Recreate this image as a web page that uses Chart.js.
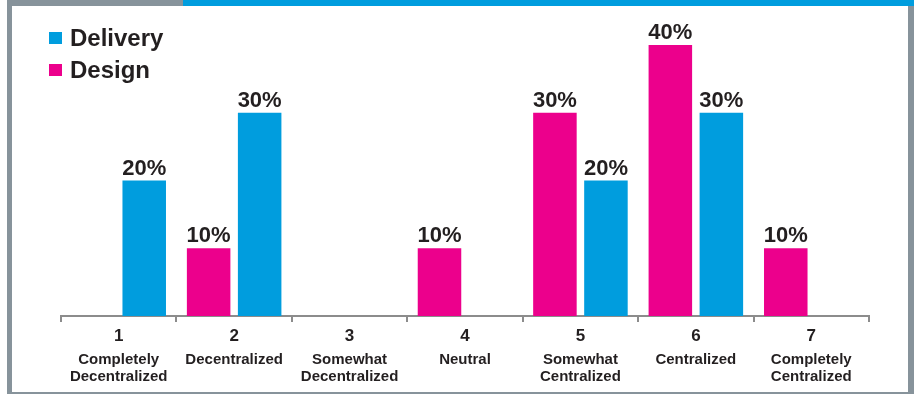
<!DOCTYPE html>
<html>
<head>
<meta charset="utf-8">
<script src="https://cdn.jsdelivr.net/npm/chart.js@4/dist/chart.umd.min.js"></script>
<style>
  html, body { margin: 0; padding: 0; background: #fff; }
  #wrap { position: relative; width: 914px; height: 394px; overflow: hidden; font-family: "Liberation Sans", Arial, sans-serif; }
  #c { position: absolute; left: 0; top: 0; }
  .bar { position: absolute; background: #87939b; }
  #legend { position: absolute; left: 49px; top: 22px; }
  .item { position: relative; height: 32px; line-height: 32px; font-size: 24px; font-weight: bold; color: #231f20; padding-left: 21px; }
  .item i { position: absolute; left: 0; top: 10px; width: 13px; height: 12px; }
</style>
</head>
<body>
<div id="wrap">
  <canvas id="c" width="914" height="394"></canvas>
  <div class="bar" style="left:7px;top:0;width:176px;height:6px"></div>
  <div class="bar" style="left:183px;top:0;width:731px;height:6px;background:#009dde"></div>
  <div class="bar" style="left:7px;top:0;width:5px;height:394px"></div>
  <div class="bar" style="left:908px;top:6px;width:6px;height:388px"></div>
  <div class="bar" style="left:7px;top:392px;width:907px;height:2px"></div>
  <div id="legend"></div>
</div>
<script>
const numbers = ["1", "2", "3", "4", "5", "6", "7"];
const descriptors = [
  ["Completely", "Decentralized"],
  ["Decentralized"],
  ["Somewhat", "Decentralized"],
  ["Neutral"],
  ["Somewhat", "Centralized"],
  ["Centralized"],
  ["Completely", "Centralized"]
];
const design = [0, 10, 0, 10, 30, 40, 10];
const delivery = [20, 30, 0, 0, 20, 30, 0];

const BLUE = "#009dde";
const PINK = "#ec008c";
const INK = "#231f20";

// legend shows Delivery first, bars draw Design on the left
const legendItems = [["Delivery", BLUE], ["Design", PINK]];
document.getElementById("legend").innerHTML = legendItems
  .map(([t, c]) => `<div class="item"><i style="background:${c}"></i>${t}</div>`)
  .join("");

const valueLabels = {
  id: "valueLabels",
  afterDatasetsDraw(chart) {
    const ctx = chart.ctx;
    ctx.save();
    ctx.font = "bold 22px 'Liberation Sans', Arial, sans-serif";
    ctx.fillStyle = INK;
    ctx.textAlign = "center";
    ctx.textBaseline = "alphabetic";
    chart.data.datasets.forEach((ds, i) => {
      chart.getDatasetMeta(i).data.forEach((bar, j) => {
        const v = ds.data[j];
        if (!v) return;
        ctx.fillText(v + "%", bar.x, bar.y - 6);
      });
    });
    ctx.restore();
  }
};

new Chart(document.getElementById("c"), {
  type: "bar",
  data: {
    labels: numbers,
    datasets: [
      { label: "Design", data: design, backgroundColor: PINK },
      { label: "Delivery", data: delivery, backgroundColor: BLUE }
    ]
  },
  options: {
    responsive: false,
    animation: false,
    events: [],
    layout: { padding: { left: 61, right: 45, top: 45, bottom: 2 } },
    datasets: { bar: { categoryPercentage: 0.884, barPercentage: 0.853 } },
    plugins: { legend: { display: false }, tooltip: { enabled: false } },
    scales: {
      y: { display: false, min: 0, max: 40 },
      x: {
        grid: { drawOnChartArea: false, color: "#8c8c8c", lineWidth: 2, tickLength: 6 },
        border: { color: "#8c8c8c", width: 2 },
        ticks: { color: INK, padding: 4, font: { family: "'Liberation Sans', Arial", size: 17, weight: "bold" } },
        afterFit(s) { s.height = 26; }
      },
      x2: {
        type: "category",
        position: "bottom",
        labels: descriptors,
        grid: { display: false },
        border: { display: false },
        ticks: { color: INK, padding: 2, font: { family: "'Liberation Sans', Arial", size: 15, weight: "bold", lineHeight: 1.1 } },
        afterFit(s) { s.height = 50; }
      }
    }
  },
  plugins: [valueLabels]
});
</script>
</body>
</html>
